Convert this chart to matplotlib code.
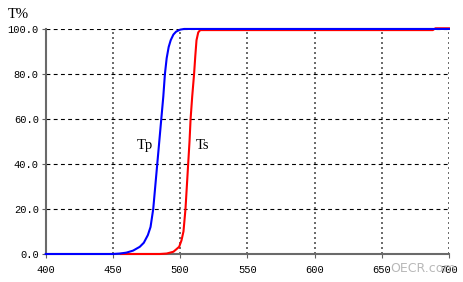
import matplotlib
matplotlib.use("Agg")
import matplotlib.pyplot as plt

# Tp curve (blue)
tp_wl = [400, 450, 455, 460, 465, 470, 473, 476, 478, 480, 481.5, 483, 484.5, 486,
         487.5, 488.7, 490, 491.5, 493, 495, 497, 500, 503, 700]
tp_t = [0, 0, 0.2, 0.6, 1.5, 3.2, 5, 8.4, 12, 20, 30, 40, 50, 60,
        70, 80, 87, 92, 95, 97.5, 98.8, 99.7, 100, 100]

# Ts curve (red)
ts_wl = [456, 485, 490, 495, 497, 499.3, 501, 502.5, 504, 505, 506, 507, 507.8,
         509, 510.4, 511.3, 512.2, 513.5, 515, 530, 688, 690, 700]
ts_t = [0, 0, 0.2, 1, 2, 3.2, 6, 10, 20, 30, 40, 50, 60,
        70, 80, 88, 95, 98.5, 99.5, 99.5, 99.5, 100.3, 100.3]

x_ticks = [400, 450, 500, 550, 600, 650, 700]
y_ticks = [0, 20, 40, 60, 80, 100]
y_labels = ["0.0", "20.0", "40.0", "60.0", "80.0", "100.0"]

fig = plt.figure(figsize=(4.64, 2.82), dpi=100)
ax = fig.add_axes([0.0985, 0.0993, 0.869, 0.798])

ax.plot(ts_wl, ts_t, color="#ff0000", lw=1.5, clip_on=False, zorder=3)
ax.plot(tp_wl, tp_t, color="#0000ff", lw=1.5, clip_on=False, zorder=4)

ax.set_xlim(400, 700)
ax.set_ylim(0, 100)
ax.set_xticks(x_ticks)
ax.set_yticks(y_ticks)
ax.set_yticklabels(y_labels)

for s in ["top", "right"]:
    ax.spines[s].set_visible(False)
for s in ["left", "bottom"]:
    ax.spines[s].set_color("#6a6a6a")
    ax.spines[s].set_linewidth(1.5)

# grid: dashed horizontals, dotted verticals
for y in y_ticks[1:]:
    ax.axhline(y, color="black", lw=0.8, ls=(0, (3.5, 3)), zorder=1)
for x in x_ticks[1:]:
    ax.axvline(x, color="#505050", lw=1.2, ls=(0, (1.2, 1.8)), zorder=1)

ax.tick_params(axis="both", length=3, width=0.8, color="#606060",
               labelsize=7.5, pad=2)
ax.tick_params(axis="x", pad=5)
for lab in ax.get_xticklabels() + ax.get_yticklabels():
    lab.set_family("Liberation Mono")

fig.text(0.017, 0.935, "T%", family="Liberation Serif", fontsize=10.5)
ax.text(467.5, 48, "Tp", family="Liberation Serif", fontsize=10.5, va="center")
ax.text(512, 48, "Ts", family="Liberation Serif", fontsize=10.5, va="center")

# watermark
fig.text(0.84, 0.035, "OECR.com", color="#b8b8b8", fontsize=9,
         family="DejaVu Sans", zorder=10)

fig.savefig("out.png", dpi=100)
